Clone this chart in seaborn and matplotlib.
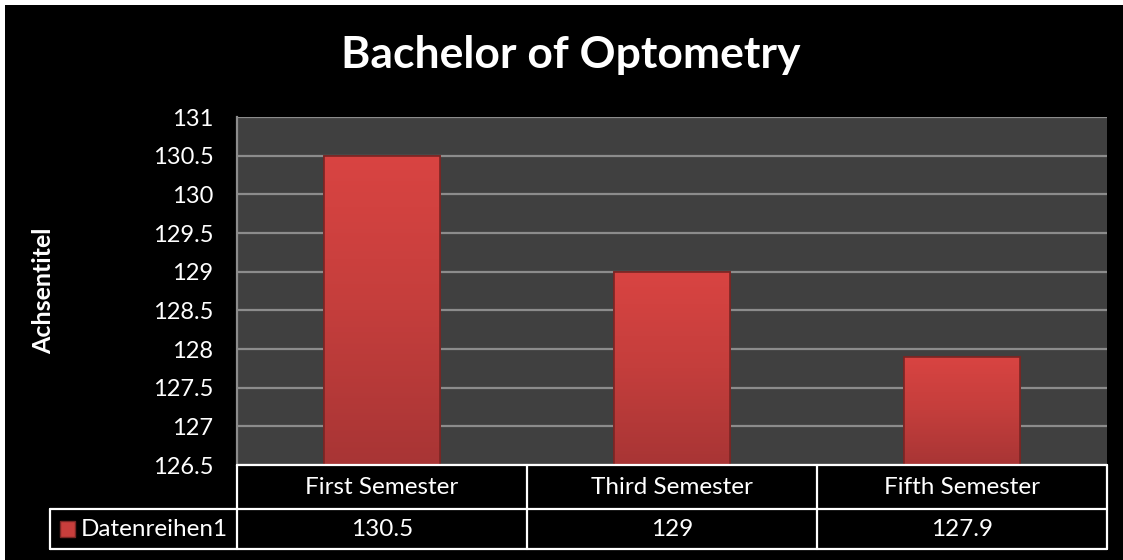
import matplotlib
matplotlib.use("Agg")
import matplotlib.pyplot as plt
import seaborn as sns
import numpy as np
import pandas as pd
from matplotlib.patches import Rectangle
from matplotlib.colors import LinearSegmentedColormap

categories = ["First Semester", "Third Semester", "Fifth Semester"]
values = [130.5, 129, 127.9]
value_labels = ["130.5", "129", "127.9"]
series_name = "Datenreihen1"
yticks = [126.5, 127, 127.5, 128, 128.5, 129, 129.5, 130, 130.5, 131]

sns.set_style("dark")
plt.rcParams["font.family"] = ["Lato", "DejaVu Sans"]

df = pd.DataFrame({"semester": categories, "value": values})

fig = plt.figure(figsize=(11.23, 5.6), dpi=100)
fig.patch.set_facecolor("white")
# black chart area, thin white strip at top and left
fig.add_artist(Rectangle((5 / 1123, 0), 1, 555 / 560, transform=fig.transFigure,
                         facecolor="black", edgecolor="none", zorder=0))

ax = fig.add_axes([237 / 1123, 1 - 465 / 560, 870 / 1123, 348 / 560])
ax.set_facecolor("#404040")

sns.barplot(data=df, x="semester", y="value", color="#d94341", width=0.4,
            edgecolor="#7a2624", linewidth=1.2, saturation=1, ax=ax)

ax.set_ylim(126.5, 131)
ax.set_xlim(-0.5, 2.5)

# vertical gradient inside each bar (bright top, darker bottom)
cmap = LinearSegmentedColormap.from_list("bar", ["#a83535", "#c43e3c", "#d94442"])
grad = np.linspace(0, 1, 256).reshape(-1, 1)
for p in ax.patches:
    x0, w = p.get_x(), p.get_width()
    top = p.get_y() + p.get_height()
    im = ax.imshow(grad, cmap=cmap, aspect="auto", origin="lower",
                   extent=[x0, x0 + w, 126.5, top], zorder=p.get_zorder() + 0.1)
    im.set_clip_path(p)
    ax.add_patch(Rectangle((x0, 126.4), w, top - 126.4, facecolor="none",
                           edgecolor="#7a2624", linewidth=1.2, zorder=p.get_zorder() + 0.2))
ax.set_xlim(-0.5, 2.5)
ax.set_ylim(126.5, 131)

ax.set_yticks(yticks)
ax.set_yticklabels([f"{t:g}" for t in yticks], color="white", fontsize=17)
ax.tick_params(axis="y", length=0, pad=17)
ax.tick_params(axis="x", length=0, labelbottom=False)
ax.yaxis.grid(True, color="#8c8c8c", linewidth=1.6)
ax.set_axisbelow(True)
ax.set_xlabel("")
ax.set_ylabel("Achsentitel", color="white", fontsize=18, fontweight="bold")
ax.yaxis.set_label_coords((55 - 237) / 870, 0.5)
for side in ["top", "right", "bottom"]:
    ax.spines[side].set_visible(False)
ax.spines["left"].set_color("#8c8c8c")
ax.spines["left"].set_linewidth(1.6)

fig.text(571 / 1123, 1 - 55 / 560, "Bachelor of Optometry", color="white",
         fontsize=32, fontweight="bold", ha="center", va="center")

# data table under the plot, in axes coordinates
tr = ax.transAxes
x_left = (50 - 237) / 870
y_mid = -44 / 348
y_bot = -84 / 348
col_edges = [0, 1 / 3, 2 / 3, 1]
lkw = dict(color="white", linewidth=1.6, transform=tr, clip_on=False, zorder=6)
ax.plot([0, 1], [0, 0], **lkw)
ax.plot([x_left, 1], [y_mid, y_mid], **lkw)
ax.plot([x_left, 1], [y_bot, y_bot], **lkw)
ax.plot([x_left, x_left], [y_mid, y_bot], **lkw)
for xe in col_edges:
    ax.plot([xe, xe], [0, y_bot], **lkw)

tkw = dict(color="white", fontsize=17.5, transform=tr, ha="center", va="center")
for i, (cat, lab) in enumerate(zip(categories, value_labels)):
    xc = (col_edges[i] + col_edges[i + 1]) / 2
    ax.text(xc, y_mid / 2, cat, **tkw)
    ax.text(xc, (y_mid + y_bot) / 2, lab, **tkw)
ax.text((81 - 237) / 870, (y_mid + y_bot) / 2, series_name, color="white", fontsize=17.5,
        transform=tr, ha="left", va="center")

# legend key inside the row label cell
ax.add_patch(Rectangle(((60 - 237) / 870, (465 - 537) / 348), 15 / 870, 16 / 348,
                       transform=tr, facecolor="#c83e3c", edgecolor="#7a2624",
                       clip_on=False, zorder=6))

fig.savefig("out.png", dpi=100, facecolor=fig.get_facecolor())
